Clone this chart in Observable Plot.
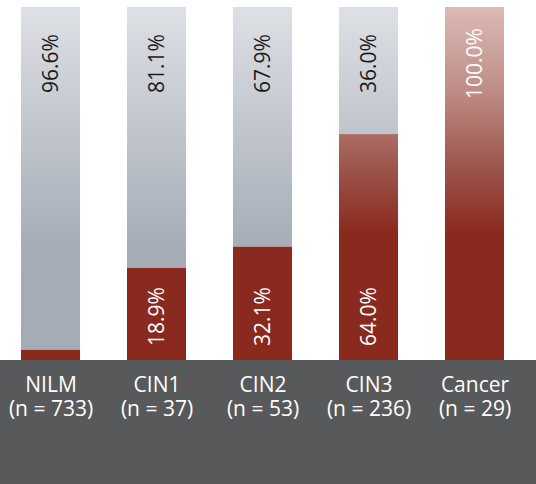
<!DOCTYPE html>
<html>
<head>
<meta charset="utf-8">
<script src="https://cdn.jsdelivr.net/npm/d3@7"></script>
<script src="https://cdn.jsdelivr.net/npm/@observablehq/plot@0.6"></script>
<style>
  html, body { margin: 0; padding: 0; background: #fff; }
</style>
</head>
<body>
<div id="chart"></div>
<script>
const categories = ["NILM", "CIN1", "CIN2", "CIN3", "Cancer"];
const counts = [733, 37, 53, 236, 29];
// bar heights (share, %) as drawn in the picture
const positive = [2.9, 26.1, 32.1, 64.0, 100.0];
// printed percentage labels
const positiveLabels = ["3.4%", "18.9%", "32.1%", "64.0%", "100.0%"];
const negativeLabels = ["96.6%", "81.1%", "67.9%", "36.0%", ""];

const rows = categories.map((c, i) => ({
  cat: c, n: counts[i], pos: positive[i], posLabel: positiveLabels[i], negLabel: negativeLabels[i]
}));

const topLabels = rows.map(r => ({
  cat: r.cat,
  label: r.negLabel !== "" ? r.negLabel : r.posLabel,
  color: r.negLabel !== "" ? "#1a1a1a" : "#ffffff"
}));
const bottomLabels = rows.filter(r => r.negLabel !== "" && r.pos >= 10)
  .map(r => ({cat: r.cat, label: r.posLabel}));

function backdrop(index, scales, values, dims) {
  const y0 = scales.y(0), y1 = scales.y(100);
  const g = d3.create("svg:g");
  const defs = g.append("defs");
  const red = defs.append("linearGradient").attr("id", "gRed")
    .attr("gradientUnits", "userSpaceOnUse")
    .attr("x1", 0).attr("x2", 0).attr("y1", y1).attr("y2", y0);
  [[0, "#dcbab5"], [0.25, "#bc8a83"], [0.45, "#9d564d"], [0.64, "#8a2a1f"], [1, "#8a2a1f"]]
    .forEach(([o, c]) => red.append("stop").attr("offset", o).attr("stop-color", c));
  const gray = defs.append("linearGradient").attr("id", "gGray")
    .attr("gradientUnits", "userSpaceOnUse")
    .attr("x1", 0).attr("x2", 0).attr("y1", y1).attr("y2", y0);
  [[0, "#dde0e5"], [0.69, "#a5acb6"], [1, "#a4abb5"]]
    .forEach(([o, c]) => gray.append("stop").attr("offset", o).attr("stop-color", c));
  g.append("rect")
    .attr("x", 0).attr("y", y0)
    .attr("width", dims.width).attr("height", dims.height - y0)
    .attr("fill", "#58595b");
  return g.node();
}

const chart = Plot.plot({
  width: 536,
  height: 484,
  marginTop: 7,
  marginBottom: 124,
  marginLeft: 0,
  marginRight: 11,
  style: {fontFamily: "'Open Sans', sans-serif", background: "#fff"},
  x: {domain: categories, paddingInner: 0.443, paddingOuter: 0.198, round: false, axis: null, label: null},
  y: {domain: [0, 100], axis: null, label: null},
  marks: [
    backdrop,
    Plot.barY(rows, {x: "cat", y1: "pos", y2: 100, fill: "url(#gGray)"}),
    Plot.barY(rows, {x: "cat", y1: 0, y2: "pos", fill: "url(#gRed)"}),
    Plot.text(topLabels, {x: "cat", y: 100, text: "label", fill: "color", rotate: -90,
      textAnchor: "middle", dy: 56, fontSize: 21}),
    Plot.text(bottomLabels, {x: "cat", y: 0, text: "label", fill: "#ffffff", rotate: -90,
      textAnchor: "middle", dy: -44, fontSize: 21}),
    Plot.axisX({
      label: null,
      tickSize: 0, tickPadding: 14, fontSize: 21, lineHeight: 1.15, fill: "#ffffff",
      tickFormat: d => `${d}\n(n = ${counts[categories.indexOf(d)]})`
    })
  ]
});
document.getElementById("chart").appendChild(chart);
</script>
</body>
</html>
